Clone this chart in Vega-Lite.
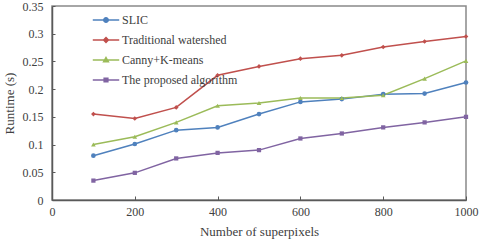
{
  "$schema": "https://vega.github.io/schema/vega-lite/v6.json",
  "width": 414,
  "height": 194,
  "autosize": "none",
  "padding": {"left": 52, "top": 6, "right": 14, "bottom": 41},
  "background": "white",
  "config": {
    "font": "Liberation Serif",
    "view": {"stroke": "#898989", "strokeWidth": 1.5},
    "axis": {"labelFont": "Liberation Serif", "titleFont": "Liberation Serif", "labelFontSize": 12, "titleFontSize": 13, "titleFontWeight": "normal", "labelColor": "#404040", "titleColor": "#404040", "domainColor": "#595959", "domainWidth": 1.5, "tickColor": "#595959", "grid": false}
  },
  "data": {"values": [
    {"n": 100, "runtime": 0.080, "method": "SLIC"},
    {"n": 200, "runtime": 0.101, "method": "SLIC"},
    {"n": 300, "runtime": 0.126, "method": "SLIC"},
    {"n": 400, "runtime": 0.131, "method": "SLIC"},
    {"n": 500, "runtime": 0.155, "method": "SLIC"},
    {"n": 600, "runtime": 0.177, "method": "SLIC"},
    {"n": 700, "runtime": 0.182, "method": "SLIC"},
    {"n": 800, "runtime": 0.191, "method": "SLIC"},
    {"n": 900, "runtime": 0.192, "method": "SLIC"},
    {"n": 1000, "runtime": 0.212, "method": "SLIC"},
    {"n": 100, "runtime": 0.155, "method": "Traditional watershed"},
    {"n": 200, "runtime": 0.147, "method": "Traditional watershed"},
    {"n": 300, "runtime": 0.167, "method": "Traditional watershed"},
    {"n": 400, "runtime": 0.225, "method": "Traditional watershed"},
    {"n": 500, "runtime": 0.241, "method": "Traditional watershed"},
    {"n": 600, "runtime": 0.255, "method": "Traditional watershed"},
    {"n": 700, "runtime": 0.261, "method": "Traditional watershed"},
    {"n": 800, "runtime": 0.276, "method": "Traditional watershed"},
    {"n": 900, "runtime": 0.286, "method": "Traditional watershed"},
    {"n": 1000, "runtime": 0.295, "method": "Traditional watershed"},
    {"n": 100, "runtime": 0.100, "method": "Canny+K-means"},
    {"n": 200, "runtime": 0.114, "method": "Canny+K-means"},
    {"n": 300, "runtime": 0.140, "method": "Canny+K-means"},
    {"n": 400, "runtime": 0.170, "method": "Canny+K-means"},
    {"n": 500, "runtime": 0.175, "method": "Canny+K-means"},
    {"n": 600, "runtime": 0.184, "method": "Canny+K-means"},
    {"n": 700, "runtime": 0.184, "method": "Canny+K-means"},
    {"n": 800, "runtime": 0.189, "method": "Canny+K-means"},
    {"n": 900, "runtime": 0.219, "method": "Canny+K-means"},
    {"n": 1000, "runtime": 0.251, "method": "Canny+K-means"},
    {"n": 100, "runtime": 0.035, "method": "The proposed algorithm"},
    {"n": 200, "runtime": 0.049, "method": "The proposed algorithm"},
    {"n": 300, "runtime": 0.075, "method": "The proposed algorithm"},
    {"n": 400, "runtime": 0.085, "method": "The proposed algorithm"},
    {"n": 500, "runtime": 0.090, "method": "The proposed algorithm"},
    {"n": 600, "runtime": 0.111, "method": "The proposed algorithm"},
    {"n": 700, "runtime": 0.120, "method": "The proposed algorithm"},
    {"n": 800, "runtime": 0.131, "method": "The proposed algorithm"},
    {"n": 900, "runtime": 0.140, "method": "The proposed algorithm"},
    {"n": 1000, "runtime": 0.150, "method": "The proposed algorithm"}
  ]},
  "encoding": {
    "x": {"field": "n", "type": "quantitative", "scale": {"domain": [0, 1000], "nice": false}, "axis": {"title": "Number of superpixels", "values": [0, 200, 400, 600, 800, 1000], "format": "d", "tickSize": -4, "labelPadding": 10, "titlePadding": 8, "labelFlush": false}},
    "y": {"field": "runtime", "type": "quantitative", "scale": {"domain": [0, 0.35], "nice": false}, "axis": {"title": "Runtime (s)", "values": [0, 0.05, 0.1, 0.15, 0.2, 0.25, 0.3, 0.35], "tickSize": -3, "labelPadding": 12, "titlePadding": 6, "format": "~g", "labelFlush": false}},
    "color": {"field": "method", "type": "nominal", "scale": {"domain": ["SLIC", "Traditional watershed", "Canny+K-means", "The proposed algorithm"], "range": ["#4F81BD", "#C0504D", "#9BBB59", "#8064A2"]},
      "legend": {"title": null, "orient": "none", "legendX": 40, "legendY": 0, "padding": 0, "labelFont": "Liberation Serif", "labelFontSize": 12, "labelColor": "#404040", "labelOffset": 2, "symbolSize": 700, "symbolStrokeWidth": 1.5, "rowPadding": -7,
        "encode": {"symbols": {"update": {"shape": {"signal": "datum.value === 'SLIC' ? 'M-1,0H1M-0.17,0A0.17,0.17 0 1,0 0.17,0A0.17,0.17 0 1,0 -0.17,0Z' : datum.value === 'Traditional watershed' ? 'M-1,0H1M0,-0.18L0.18,0L0,0.18L-0.18,0Z' : datum.value === 'Canny+K-means' ? 'M-1,0H1M0,-0.18L0.18,0.14L-0.18,0.14Z' : 'M-1,0H1M-0.14,-0.14H0.14V0.14H-0.14Z'"}, "fill": {"scale": "color", "field": "value"}, "stroke": {"scale": "color", "field": "value"}, "strokeWidth": {"value": 1.5}, "opacity": {"value": 1}}}}
      }}
  },
  "layer": [
    {"mark": {"type": "line", "strokeWidth": 1.5}},
    {"transform": [{"filter": "datum.method === 'SLIC'"}], "mark": {"type": "point", "shape": "circle", "filled": true, "opacity": 1, "size": 22}},
    {"transform": [{"filter": "datum.method === 'Traditional watershed'"}], "mark": {"type": "point", "shape": "diamond", "filled": true, "opacity": 1, "size": 22}},
    {"transform": [{"filter": "datum.method === 'Canny+K-means'"}], "mark": {"type": "point", "shape": "triangle-up", "filled": true, "opacity": 1, "size": 22}},
    {"transform": [{"filter": "datum.method === 'The proposed algorithm'"}], "mark": {"type": "point", "shape": "square", "filled": true, "opacity": 1, "size": 18}}
  ]
}
